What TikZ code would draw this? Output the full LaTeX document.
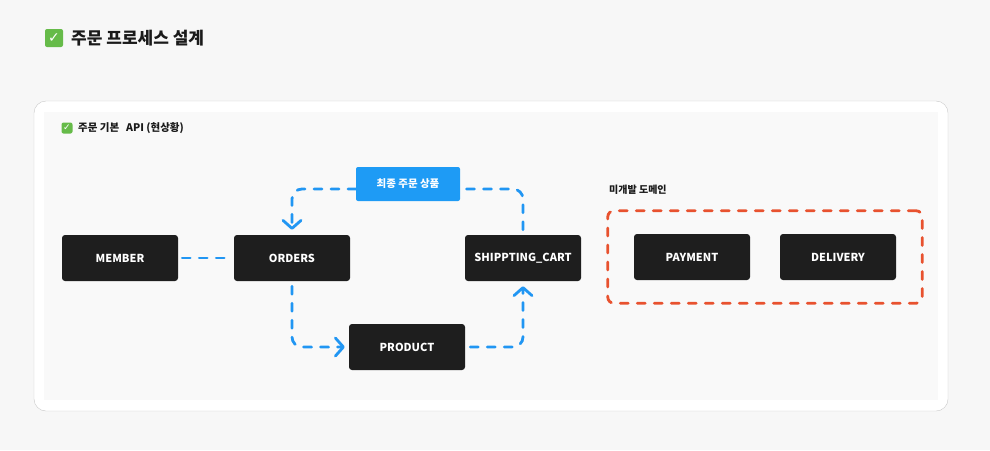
\documentclass[tikz,border=0pt]{standalone}
\usepackage{fontspec}
\setmainfont{Noto Sans CJK KR}
\newfontfamily\symfont{DejaVu Sans}
\usetikzlibrary{arrows.meta,fit}
\definecolor{boxdark}{HTML}{1E1E1E}
\definecolor{flowblue}{HTML}{2196F3}
\definecolor{labelblue}{HTML}{1E9BF5}
\definecolor{undevred}{HTML}{E8522F}
\definecolor{checkgreen}{HTML}{66BB49}
\definecolor{pagegray}{HTML}{F7F7F7}
\definecolor{panelgray}{HTML}{F9F9F9}
\definecolor{cardline}{HTML}{C8C8C8}
\definecolor{inktext}{HTML}{1A1A1A}
\begin{document}
\begin{tikzpicture}[x=1pt,y=-1pt,
 entity/.style={rectangle, rounded corners=3pt, fill=boxdark, text=white, font=\fontsize{11}{13}\selectfont\bfseries, minimum width=116pt, minimum height=46pt},
 flow/.style={draw=flowblue, line width=2.8pt, line cap=round, dash pattern=on 8pt off 9pt, rounded corners=10pt},
 tip/.style={-{Straight Barb[length=8pt,width=18pt,round]}},
 checkbox/.style={rectangle, rounded corners=2pt, fill=checkgreen, text=white, inner sep=0pt}]
 \fill[pagegray] (0,0) rectangle (990,450);
 \useasboundingbox (0,0) rectangle (990,450);
 \draw[cardline, fill=white, rounded corners=12pt] (34,101) rectangle (948,411);
 \fill[panelgray] (44,112) rectangle (938,400);
 % titles
 \node[checkbox, minimum size=18pt, font=\symfont\bfseries\fontsize{14}{14}\selectfont] (titlecheck) at (54,38) {✓};
 \node[anchor=west, inner sep=0pt, text=inktext, font=\fontsize{17}{20}\selectfont\bfseries] (title) at (71,38) {주문 프로세스 설계};
 \node[checkbox, minimum size=11pt, font=\symfont\bfseries\fontsize{9}{9}\selectfont] (apicheck) at (67,128) {✓};
 \node[anchor=west, inner sep=0pt, text=inktext, font=\fontsize{10.5}{12}\selectfont\bfseries] (apititle) at (78,128) {주문 기본\hspace{7pt}API (현상황)};
 % entities
 \node[entity] (member) at (120,258) {MEMBER};
 \node[entity] (orders) at (292,258) {ORDERS};
 \node[entity] (shipcart) at (523,258) {SHIPPTING\_CART};
 \node[entity] (product) at (407,347) {PRODUCT};
 \node[entity] (payment) at (692,257) {PAYMENT};
 \node[entity] (delivery) at (838,257) {DELIVERY};
 \coordinate (cartturn) at (523,189);
 \coordinate (orderturn) at (292,189);
 % connectors
 \draw[flow, shorten <=4pt, shorten >=3pt] (member) -- (orders);
 \draw[flow, tip, shorten <=5pt, shorten >=4pt] (orders.south) |- (product.west);
 \draw[flow, tip, shorten <=5pt, shorten >=5pt] (product.east) -| (shipcart.south);
 \draw[flow, shorten <=5pt] (shipcart.north) -- (cartturn) -- (460,189);
 \draw[flow, tip, shorten >=5pt] (356,189) -- (orderturn) -- (orders.north);
 \node[rectangle, rounded corners=2pt, fill=labelblue, text=white, minimum width=104pt, minimum height=34pt, font=\fontsize{10.5}{12}\selectfont\bfseries] (finalitem) at (408,184) {최종 주문 상품};
 % undeveloped domain
 \node[fit=(payment)(delivery), inner xsep=26pt, inner ysep=23pt, draw=undevred, line width=2.8pt, line cap=round, dash pattern=on 8pt off 9pt, rounded corners=6pt] (undev) {};
 \node[anchor=west, inner sep=0pt, text=inktext, font=\fontsize{10}{12}\selectfont\bfseries] (undevlabel) at (609,190) {미개발 도메인};
\end{tikzpicture}
\end{document}
